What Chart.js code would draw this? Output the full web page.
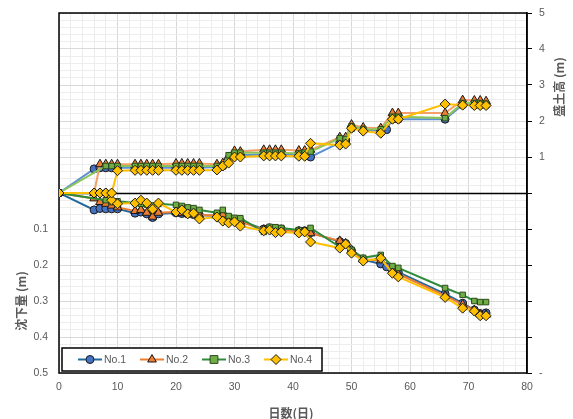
<!DOCTYPE html>
<html>
<head>
<meta charset="utf-8">
<script src="https://cdn.jsdelivr.net/npm/chart.js@4/dist/chart.umd.min.js"></script>
<style>
  html, body { margin: 0; padding: 0; background: #fff; }
  #wrap { width: 573px; height: 419px; }
</style>
</head>
<body>
<div id="wrap"><canvas id="c" width="573" height="419"></canvas></div>
<script>
// ---- data --------------------------------------------------------------
const seriesNames = ['No.1', 'No.2', 'No.3', 'No.4'];

// measurement days (日)
const days1 = [0,6,7,8,9,10,13,14,15,16,17,20,21,22,23,24,27,28,29,30,31,35,36,37,38,41,42,43,48,49,50,52,55,56,57,58,66,69,71,72,73];
const days2 = [0,6,7,8,9,10,13,14,15,16,17,20,21,22,23,24,27,28,29,30,31,35,36,37,38,41,42,43,48,49,50,52,55,57,58,66,69,71,72,73];
const days3 = [0,8,9,10,13,14,15,16,17,20,21,22,23,24,27,28,29,30,31,35,36,37,38,41,42,43,48,49,50,52,55,57,58,66,69,71,72,73];
const days4 = days2;

// 盛土高 (m)
const fill1 = [0,0.67,0.7,0.7,0.7,0.7,0.7,0.7,0.7,0.7,0.7,0.7,0.7,0.7,0.7,0.7,0.72,0.75,0.95,1.05,1.05,1.07,1.07,1.07,1.07,1.05,1.05,1.0,1.4,1.45,1.8,1.75,1.72,1.76,2.05,2.05,2.05,2.45,2.45,2.45,2.45];
const fill2 = [0,0,0.8,0.8,0.8,0.8,0.8,0.8,0.8,0.8,0.8,0.82,0.82,0.82,0.82,0.82,0.8,0.83,1.0,1.17,1.15,1.2,1.2,1.2,1.2,1.18,1.18,1.2,1.55,1.55,1.9,1.82,1.8,2.22,2.22,2.22,2.58,2.57,2.57,2.55];
const fill3 = [0,0.75,0.75,0.75,0.75,0.75,0.75,0.75,0.75,0.75,0.75,0.75,0.75,0.75,0.75,0.78,1.05,1.12,1.12,1.12,1.12,1.12,1.12,1.1,1.12,1.15,1.52,1.5,1.85,1.78,1.77,2.12,2.12,2.08,2.5,2.5,2.5,2.48];
const fill4 = [0,0,0,0,0,0.62,0.63,0.63,0.63,0.63,0.63,0.63,0.63,0.63,0.63,0.63,0.64,0.75,0.83,1.0,1.0,1.03,1.03,1.03,1.03,1.02,1.02,1.38,1.33,1.36,1.8,1.72,1.66,2.05,2.05,2.47,2.44,2.43,2.43,2.43];

// 沈下量 (m)
const settle1 = [0,0.047,0.043,0.044,0.044,0.044,0.056,0.053,0.058,0.068,0.058,0.055,0.057,0.058,0.06,0.062,0.063,0.065,0.07,0.075,0.078,0.1,0.097,0.1,0.1,0.105,0.105,0.11,0.135,0.14,0.16,0.185,0.197,0.205,0.215,0.22,0.28,0.306,0.325,0.335,0.333];
const settle2 = [0,0.015,0.025,0.03,0.035,0.04,0.05,0.047,0.055,0.066,0.055,0.053,0.056,0.057,0.058,0.062,0.062,0.06,0.072,0.075,0.08,0.102,0.1,0.103,0.103,0.107,0.108,0.112,0.133,0.14,0.158,0.185,0.187,0.215,0.225,0.285,0.31,0.325,0.337,0.338];
const settle3 = [0,0.02,0.025,0.023,0.028,0.03,0.032,0.035,0.03,0.033,0.036,0.04,0.042,0.047,0.055,0.047,0.064,0.069,0.07,0.108,0.094,0.095,0.097,0.103,0.107,0.097,0.15,0.145,0.158,0.18,0.172,0.203,0.208,0.264,0.283,0.3,0.303,0.303];
const settle4 = [0,0,0,0,0.02,0.03,0.028,0.02,0.028,0.045,0.028,0.053,0.047,0.058,0.056,0.072,0.067,0.078,0.083,0.08,0.092,0.105,0.103,0.11,0.108,0.111,0.108,0.136,0.153,0.142,0.167,0.189,0.181,0.223,0.233,0.29,0.32,0.328,0.341,0.341];

// axis tick labels
const xTickLabels = ['0','10','20','30','40','50','60','70','80'];
const leftTickLabels = ['0.1','0.2','0.3','0.4','0.5'];
const rightTickLabels = ['1','2','3','4','5'];

// ---- styles ------------------------------------------------------------
const markerStyle = ['circle', 'triangle', 'rect', 'rectRot'];
const markerRadius = [4, 5, 3.9, 5];
const markerFill = ['#4472C4', '#ED7D31', '#70AD47', '#FFC000'];
const markerEdge = ['#1a1a1a', '#1a1a1a', '#2b4a1a', '#1a1a1a'];
const lineTop = ['#5B8FD6', '#F4A06A', '#8CC45A', '#FFC000'];
const lineBottom = ['#22689C', '#ED7D31', '#2E8B3A', '#FFC000'];

const pts = (d, v) => d.map((x, i) => ({ x, y: v[i] }));

const fillSets = [pts(days1, fill1), pts(days2, fill2), pts(days3, fill3), pts(days4, fill4)];
const settleSets = [pts(days1, settle1), pts(days2, settle2), pts(days3, settle3), pts(days4, settle4)];

// later series are painted over earlier ones
function ds(i, data, lineColor, axis, label) {
  return {
    label, data, yAxisID: axis, order: 3 - i,
    borderColor: lineColor, borderWidth: 2,
    pointStyle: markerStyle[i], pointRadius: markerRadius[i],
    pointBackgroundColor: markerFill[i], pointBorderColor: markerEdge[i],
    pointBorderWidth: 1, tension: 0, fill: false
  };
}

const datasets = [];
for (let i = 0; i < 4; i++) datasets.push(ds(i, fillSets[i], lineTop[i], 'y2', '盛土高 ' + seriesNames[i]));
for (let i = 0; i < 4; i++) datasets.push(ds(i, settleSets[i], lineBottom[i], 'y', seriesNames[i]));

const tickFont = { family: "'Liberation Sans', Arial, sans-serif", size: 10.5 };
const tickColor = '#595959';
const near = (a, b) => Math.abs(a - b) < 1e-6;

// frame, zero line, axis titles and legend
function drawMarker(ctx, i, x, y) {
  const r = markerRadius[i];
  ctx.save();
  ctx.fillStyle = markerFill[i];
  ctx.strokeStyle = markerEdge[i];
  ctx.lineWidth = 1;
  ctx.beginPath();
  if (markerStyle[i] === 'circle') {
    ctx.arc(x, y, r, 0, Math.PI * 2);
  } else if (markerStyle[i] === 'triangle') {
    ctx.moveTo(x, y - r);
    ctx.lineTo(x + r * 0.866, y + r * 0.5);
    ctx.lineTo(x - r * 0.866, y + r * 0.5);
    ctx.closePath();
  } else if (markerStyle[i] === 'rect') {
    ctx.rect(x - r, y - r, r * 2, r * 2);
  } else {
    ctx.moveTo(x, y - r); ctx.lineTo(x + r, y); ctx.lineTo(x, y + r); ctx.lineTo(x - r, y);
    ctx.closePath();
  }
  ctx.fill(); ctx.stroke();
  ctx.restore();
}

const decor = {
  id: 'decor',
  beforeDatasetsDraw(chart) {
    const { ctx, chartArea: a, scales } = chart;
    ctx.save();
    ctx.strokeStyle = '#000';
    ctx.lineWidth = 1.5;
    ctx.strokeRect(a.left, a.top, a.right - a.left, a.bottom - a.top);
    const y0 = Math.round(scales.y.getPixelForValue(0)) + 0.5;
    ctx.beginPath(); ctx.moveTo(a.left, y0); ctx.lineTo(a.right, y0); ctx.stroke();
    ctx.restore();
  },
  afterDraw(chart) {
    const { ctx } = chart;
    ctx.save();
    ctx.fillStyle = tickColor;
    ctx.textAlign = 'center';
    ctx.textBaseline = 'middle';
    ctx.font = "bold 12px 'Noto Sans CJK JP', sans-serif";
    // x title
    ctx.fillText('日数(日)', 291, 413);
    // left title
    ctx.save(); ctx.translate(21, 301); ctx.rotate(-Math.PI / 2);
    ctx.fillText('沈下量 (m)', 0, 0); ctx.restore();
    // right title
    ctx.save(); ctx.translate(559, 87); ctx.rotate(-Math.PI / 2);
    ctx.fillText('盛土高 (m)', 0, 0); ctx.restore();

    // legend
    const bx = 62, by = 348, bw = 260, bh = 23;
    ctx.fillStyle = '#fff';
    ctx.fillRect(bx, by, bw, bh);
    ctx.strokeStyle = '#000';
    ctx.lineWidth = 1.5;
    ctx.strokeRect(bx, by, bw, bh);
    const starts = [78, 140, 202, 264];
    const ly = by + bh / 2;
    ctx.font = "10.5px 'Liberation Sans', Arial, sans-serif";
    ctx.textAlign = 'left';
    for (let i = 0; i < 4; i++) {
      const sx = starts[i];
      ctx.strokeStyle = lineBottom[i];
      ctx.lineWidth = 2;
      ctx.beginPath(); ctx.moveTo(sx, ly); ctx.lineTo(sx + 24, ly); ctx.stroke();
      drawMarker(ctx, i, sx + 12, ly);
      ctx.fillStyle = tickColor;
      ctx.fillText(seriesNames[i], sx + 26, ly + 0.5);
    }
    ctx.restore();
  }
};

// fixed axis sizes, no extra room for overhanging end labels
const fixWidth = w => s => { s.width = w; s.paddingTop = 0; s.paddingBottom = 0; };

new Chart(document.getElementById('c'), {
  type: 'line',
  data: { datasets },
  options: {
    responsive: false,
    animation: false,
    events: [],
    layout: { padding: { top: 13, left: 0, right: 0, bottom: 0 } },
    plugins: { legend: { display: false }, tooltip: { enabled: false } },
    scales: {
      x: {
        type: 'linear', min: 0, max: 80,
        border: { display: false },
        grid: {
          drawTicks: false,
          color: c => (near(c.tick.value % 10, 0) ? '#D9D9D9' : '#EDEDED'),
          lineWidth: 1
        },
        ticks: {
          stepSize: 2, autoSkip: false, maxRotation: 0, padding: 8,
          color: tickColor, font: tickFont,
          callback: v => {
            const k = Math.round(v / 10);
            return near(v, k * 10) ? xTickLabels[k] : '';
          }
        },
        afterFit: s => { s.height = 46; s.paddingLeft = 0; s.paddingRight = 0; }
      },
      y: {
        type: 'linear', position: 'left', reverse: true, min: -0.5, max: 0.5,
        border: { display: false },
        grid: {
          drawTicks: false,
          color: c => (near(c.tick.value * 10, Math.round(c.tick.value * 10)) ? '#D9D9D9' : '#EDEDED'),
          lineWidth: 1
        },
        ticks: {
          stepSize: 0.02, autoSkip: false, padding: 11,
          color: tickColor, font: tickFont,
          callback: v => {
            const k = Math.round(v * 10);
            return (k >= 1 && near(v * 10, k)) ? leftTickLabels[k - 1] : '';
          }
        },
        afterFit: fixWidth(59)
      },
      y2: {
        type: 'linear', position: 'right', min: -5, max: 5,
        border: { display: true, color: '#000', width: 1.5 },
        grid: { drawOnChartArea: false, drawTicks: true, tickLength: 5, tickColor: '#000', tickWidth: 1 },
        ticks: {
          stepSize: 1, autoSkip: false, padding: 7,
          color: tickColor, font: tickFont,
          callback: v => (v >= 1 ? rightTickLabels[v - 1] : (v === -5 ? '-' : ''))
        },
        afterFit: fixWidth(46)
      }
    }
  },
  plugins: [decor]
});
</script>
</body>
</html>
